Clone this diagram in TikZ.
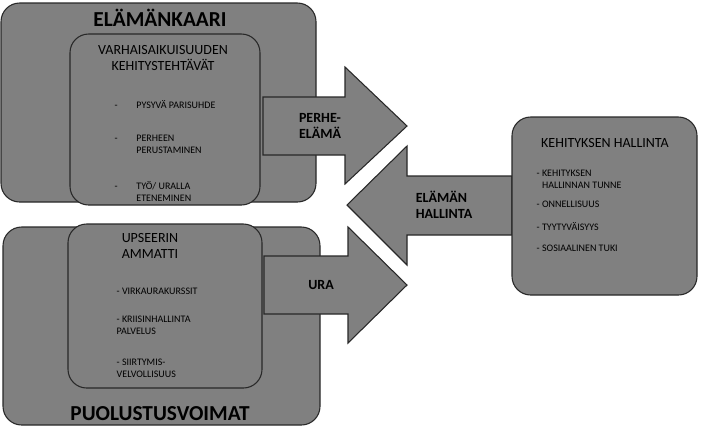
\documentclass[tikz,border=0pt]{standalone}
\usepackage{fontspec}
\setmainfont{Carlito}
\definecolor{boxgray}{RGB}{128,128,128}
\definecolor{edgegray}{RGB}{40,40,40}
\tikzset{
  panel/.style={draw=edgegray,fill=boxgray,line width=0.8pt,rounded corners=14pt},
  bigarrow/.style={draw=edgegray,fill=boxgray,line width=0.8pt},
  title/.style={font=\bfseries\fontsize{16}{17}\selectfont},
  head/.style={font=\fontsize{10.5}{12}\selectfont,align=left},
  item/.style={font=\fontsize{7.5}{9}\selectfont,align=left,anchor=north west},
  arrowlabel/.style={font=\bfseries\fontsize{10.5}{12}\selectfont,align=left}
}
\begin{document}
\begin{tikzpicture}[x=0.75pt,y=-0.75pt]
  \useasboundingbox (0,0) rectangle (705,430);
  % upper frame
  \draw[panel] (1,3) rectangle (316,202);
  \node[title] (kaari) at (160,18) {ELÄMÄNKAARI};
  \draw[panel] (70,34) rectangle (260,205);
  \node[head,align=center] (varh) at (163,58) {VARHAISAIKUISUUDEN\\KEHITYSTEHTÄVÄT};
  \node[item] (i1) at (110,96) {-\hspace{14pt}PYSYVÄ PARISUHDE};
  \node[item] (i2) at (110,128) {-\hspace{14pt}\begin{tabular}[t]{@{}l@{}}PERHEEN\\PERUSTAMINEN\end{tabular}};
  \node[item] (i3) at (110,176) {-\hspace{14pt}\begin{tabular}[t]{@{}l@{}}TYÖ/ URALLA\\ETENEMINEN\end{tabular}};
  % lower frame
  \draw[panel] (3,227) rectangle (320,425);
  \draw[panel] (68,224) rectangle (262,388);
  \node[title] (puol) at (160,414) {PUOLUSTUSVOIMAT};
  \node[head] (ups) at (150,246) {UPSEERIN\\AMMATTI};
  \node[item] (j1) at (112,283) {- VIRKAURAKURSSIT};
  \node[item] (j2) at (112,311) {- KRIISINHALLINTA\\PALVELUS};
  \node[item] (j3) at (112,354) {- SIIRTYMIS-\\VELVOLLISUUS};
  % arrows
  \draw[bigarrow] (263,97) -- (345,97) -- (345,67) -- (407,126) -- (345,184)
    -- (345,155) -- (263,155) -- cycle;
  \node[arrowlabel] (perhe) at (320,126) {PERHE-\\ELÄMÄ};
  \draw[bigarrow] (512,176) -- (407,176) -- (407,146) -- (347,205) -- (407,265)
    -- (407,235) -- (512,235) -- cycle;
  \node[arrowlabel] (hall) at (444,205) {ELÄMÄN\\HALLINTA};
  \draw[bigarrow] (264,256) -- (348,256) -- (348,227) -- (407,285) -- (348,343)
    -- (348,314) -- (264,314) -- cycle;
  \node[arrowlabel] (ura) at (321,285) {URA};
  % right box
  \draw[panel] (512,117) rectangle (697,295);
  \node[head] (kehh) at (605,143) {KEHITYKSEN HALLINTA};
  \node[item] (k1) at (532,163) {- \begin{tabular}[t]{@{}l@{}}KEHITYKSEN\\HALLINNAN TUNNE\end{tabular}};
  \node[item] (k2) at (532,196) {- ONNELLISUUS};
  \node[item] (k3) at (532,218) {- TYYTYVÄISYYS};
  \node[item] (k4) at (532,240) {- SOSIAALINEN TUKI};
\end{tikzpicture}
\end{document}
